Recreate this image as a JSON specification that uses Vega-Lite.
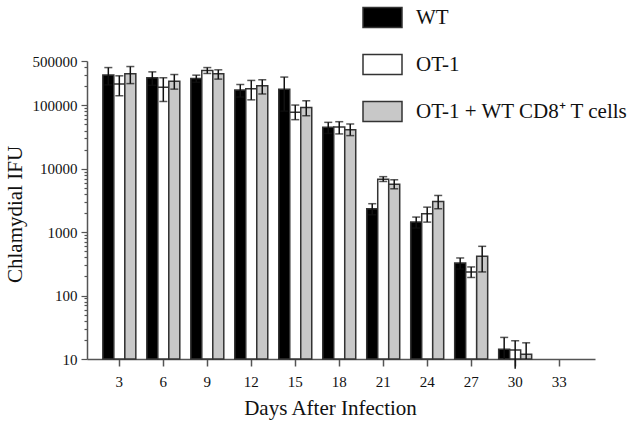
{
  "$schema": "https://vega.github.io/schema/vega-lite/v6.json",
  "width": 508,
  "height": 298,
  "autosize": {"type": "none"},
  "padding": {"left": 87, "top": 61, "right": 42, "bottom": 68},
  "config": {
    "view": {"stroke": null},
    "font": "Liberation Serif",
    "legend": {"labelFont": "Liberation Serif"},
    "axis": {"labelFont": "Liberation Serif", "titleFont": "Liberation Serif"}
  },
  "data": {
    "values": [
      {"day": 3, "group": "WT", "mean": 302000, "lo": 210000, "hi": 394000, "loCap": 210000},
      {"day": 3, "group": "OT-1", "mean": 216000, "lo": 141600, "hi": 292000, "loCap": 141600},
      {"day": 3, "group": "OT-1 + WT CD8⁺ T cells", "mean": 315000, "lo": 220000, "hi": 409000, "loCap": 220000},
      {"day": 6, "group": "WT", "mean": 272000, "lo": 207000, "hi": 337000, "loCap": 207000},
      {"day": 6, "group": "OT-1", "mean": 193000, "lo": 115000, "hi": 272000, "loCap": 115000},
      {"day": 6, "group": "OT-1 + WT CD8⁺ T cells", "mean": 240000, "lo": 180000, "hi": 306000, "loCap": 180000},
      {"day": 9, "group": "WT", "mean": 265000, "lo": 231000, "hi": 299000, "loCap": 231000},
      {"day": 9, "group": "OT-1", "mean": 355000, "lo": 318000, "hi": 394000, "loCap": 318000},
      {"day": 9, "group": "OT-1 + WT CD8⁺ T cells", "mean": 315000, "lo": 259000, "hi": 363000, "loCap": 259000},
      {"day": 12, "group": "WT", "mean": 174000, "lo": 135000, "hi": 213000, "loCap": 135000},
      {"day": 12, "group": "OT-1", "mean": 182000, "lo": 122000, "hi": 247000, "loCap": 122000},
      {"day": 12, "group": "OT-1 + WT CD8⁺ T cells", "mean": 203000, "lo": 151000, "hi": 253000, "loCap": 151000},
      {"day": 15, "group": "WT", "mean": 180000, "lo": 81000, "hi": 279000, "loCap": 81000},
      {"day": 15, "group": "OT-1", "mean": 78000, "lo": 59400, "hi": 101000, "loCap": 59400},
      {"day": 15, "group": "OT-1 + WT CD8⁺ T cells", "mean": 92000, "lo": 68500, "hi": 118000, "loCap": 68500},
      {"day": 18, "group": "WT", "mean": 45000, "lo": 36000, "hi": 53900, "loCap": 36000},
      {"day": 18, "group": "OT-1", "mean": 45500, "lo": 35400, "hi": 55200, "loCap": 35400},
      {"day": 18, "group": "OT-1 + WT CD8⁺ T cells", "mean": 41300, "lo": 33300, "hi": 50800, "loCap": 33300},
      {"day": 21, "group": "WT", "mean": 2340, "lo": 1880, "hi": 2810, "loCap": 1880},
      {"day": 21, "group": "OT-1", "mean": 6800, "lo": 6300, "hi": 7500, "loCap": 6300},
      {"day": 21, "group": "OT-1 + WT CD8⁺ T cells", "mean": 5700, "lo": 4830, "hi": 6700, "loCap": 4830},
      {"day": 24, "group": "WT", "mean": 1440, "lo": 1160, "hi": 1730, "loCap": 1160},
      {"day": 24, "group": "OT-1", "mean": 1950, "lo": 1440, "hi": 2480, "loCap": 1440},
      {"day": 24, "group": "OT-1 + WT CD8⁺ T cells", "mean": 3050, "lo": 2340, "hi": 3790, "loCap": 2340},
      {"day": 27, "group": "WT", "mean": 327, "lo": 262, "hi": 392, "loCap": 262},
      {"day": 27, "group": "OT-1", "mean": 236, "lo": 193, "hi": 283, "loCap": 193},
      {"day": 27, "group": "OT-1 + WT CD8⁺ T cells", "mean": 416, "lo": 236, "hi": 598, "loCap": 236},
      {"day": 30, "group": "WT", "mean": 14.2, "lo": 10, "hi": 21.9, "loCap": null},
      {"day": 30, "group": "OT-1", "mean": 13.9, "lo": 7, "hi": 19.4, "loCap": null},
      {"day": 30, "group": "OT-1 + WT CD8⁺ T cells", "mean": 11.9, "lo": 10, "hi": 18.0, "loCap": null}
    ]
  },
  "encoding": {
    "x": {
      "field": "day",
      "type": "ordinal",
      "scale": {"domain": [3, 6, 9, 12, 15, 18, 21, 24, 27, 30, 33], "paddingInner": 0.25, "paddingOuter": 0.4, "align": 0.45},
      "axis": {
        "title": "Days After Infection",
        "labelAngle": 0,
        "labelFont": "Liberation Serif",
        "labelFontSize": 15,
        "labelColor": "#111",
        "labelPadding": 8,
        "tickSize": 7,
        "tickColor": "#555",
        "tickWidth": 1.5,
        "domainColor": "#555",
        "domainWidth": 1.5,
        "titleFont": "Liberation Serif",
        "titleFontSize": 21,
        "titleFontWeight": "normal",
        "titleColor": "#111",
        "titleX": 243,
        "titleY": 55,
        "titleBaseline": "alphabetic",
        "titleAlign": "center"
      }
    },
    "xOffset": {
      "field": "group",
      "type": "nominal",
      "scale": {"domain": ["WT", "OT-1", "OT-1 + WT CD8⁺ T cells"], "paddingInner": 0, "paddingOuter": 0}
    }
  },
  "layer": [
    {
      "mark": {"type": "bar", "stroke": "#333", "strokeWidth": 1.5},
      "encoding": {
        "y": {
          "field": "mean",
          "type": "quantitative",
          "scale": {"type": "log", "domain": [10, 500000]},
          "axis": {
            "title": "Chlamydial IFU",
            "grid": false,
            "values": [10, 20, 30, 40, 50, 60, 70, 80, 90, 100, 200, 300, 400, 500, 600, 700, 800, 900, 1000, 2000, 3000, 4000, 5000, 6000, 7000, 8000, 9000, 10000, 20000, 30000, 40000, 50000, 60000, 70000, 80000, 90000, 100000, 200000, 300000, 400000, 500000],
            "labelExpr": "indexof([10,100,1000,10000,100000,500000], datum.value) >= 0 ? datum.value : ''",
            "labelOverlap": false,
            "labelFont": "Liberation Serif",
            "labelFontSize": 15,
            "labelColor": "#111",
            "labelPadding": 4,
            "tickSize": {"condition": {"test": "indexof([10,100,1000,10000,100000,500000], datum.value) >= 0", "value": 6}, "value": 3},
            "tickColor": "#555",
            "tickWidth": 1.2,
            "domainColor": "#555",
            "domainWidth": 1.5,
            "titleFont": "Liberation Serif",
            "titleFontSize": 21,
            "titleFontWeight": "normal",
            "titleColor": "#111",
            "titleX": -66,
            "titleY": 153,
            "titleAngle": -90,
            "titleBaseline": "alphabetic",
            "titleAlign": "center"
          }
        },
        "y2": {"datum": 10},
        "fill": {
          "field": "group",
          "type": "nominal",
          "scale": {"domain": ["WT", "OT-1", "OT-1 + WT CD8⁺ T cells"], "range": ["#000000", "#ffffff", "#c8c8c8"]},
          "legend": {
            "orient": "none",
            "legendX": 275,
            "legendY": -64,
            "title": null,
            "padding": 0,
            "symbolType": "M-1,-0.513H1V0.513H-1Z",
            "symbolSize": 1521,
            "symbolStrokeColor": "#333",
            "symbolStrokeWidth": 1.5,
            "symbolOpacity": 1,
            "labelFont": "Liberation Serif",
            "labelFontSize": 21,
            "labelColor": "#111",
            "labelOffset": 13,
            "labelLimit": 300,
            "rowPadding": 13
          }
        }
      }
    },
    {
      "mark": {"type": "rule", "color": "#111", "strokeWidth": 1.5},
      "encoding": {
        "y": {"field": "lo", "type": "quantitative", "scale": {"type": "log", "domain": [10, 500000]}},
        "y2": {"field": "hi"}
      }
    },
    {
      "mark": {"type": "tick", "color": "#111", "thickness": 1.5, "size": 8, "orient": "horizontal"},
      "encoding": {
        "y": {"field": "hi", "type": "quantitative", "scale": {"type": "log", "domain": [10, 500000]}}
      }
    },
    {
      "mark": {"type": "tick", "color": "#111", "thickness": 1.5, "size": 8, "orient": "horizontal"},
      "encoding": {
        "y": {"field": "loCap", "type": "quantitative", "scale": {"type": "log", "domain": [10, 500000]}}
      }
    }
  ]
}
